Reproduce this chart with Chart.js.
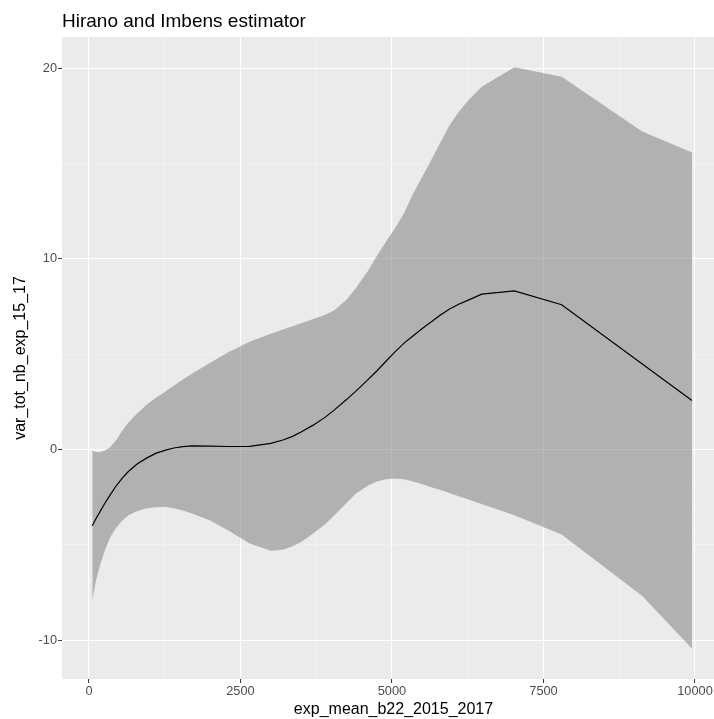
<!DOCTYPE html>
<html>
<head>
<meta charset="utf-8">
<script src="https://cdn.jsdelivr.net/npm/chart.js@4.4.1/dist/chart.umd.min.js"></script>
<style>
  html, body { margin: 0; padding: 0; background: #ffffff; overflow: hidden; }
  #wrap { width: 725px; height: 719px; }
</style>
</head>
<body>
<div id="wrap"><canvas id="chart" width="725" height="719"></canvas></div>
<script>
// data
const xs = [55, 110, 180, 260, 350, 450, 550, 650, 800, 950, 1100, 1250, 1400, 1550, 1700, 2000, 2300, 2650, 3000, 3200, 3350, 3500, 3700, 3900, 4050, 4250, 4400, 4600, 4750, 4900, 5050, 5200, 5350, 5500, 5650, 5800, 5950, 6100, 6250, 6480, 7020, 7800, 9130, 9950];
const estimate = [-4.0, -3.65, -3.27, -2.83, -2.38, -1.9, -1.5, -1.15, -0.75, -0.45, -0.2, -0.04, 0.08, 0.15, 0.19, 0.18, 0.16, 0.17, 0.32, 0.5, 0.68, 0.92, 1.28, 1.7, 2.08, 2.62, 3.05, 3.65, 4.12, 4.63, 5.12, 5.58, 5.97, 6.35, 6.7, 7.05, 7.37, 7.62, 7.82, 8.15, 8.32, 7.59, 4.49, 2.57];
const upper = [-0.05, -0.13, -0.14, -0.05, 0.12, 0.5, 0.98, 1.42, 1.9, 2.35, 2.7, 3.02, 3.35, 3.67, 3.98, 4.55, 5.1, 5.65, 6.07, 6.3, 6.45, 6.62, 6.84, 7.07, 7.3, 7.85, 8.45, 9.35, 10.15, 10.9, 11.6, 12.4, 13.43, 14.3, 15.2, 16.1, 17.0, 17.7, 18.27, 19.02, 20.04, 19.55, 16.67, 15.57];
const lower = [-7.94, -6.95, -6.08, -5.3, -4.6, -4.1, -3.72, -3.45, -3.22, -3.08, -3.02, -3.0, -3.08, -3.2, -3.35, -3.72, -4.25, -4.92, -5.3, -5.25, -5.08, -4.85, -4.4, -3.9, -3.45, -2.8, -2.32, -1.9, -1.68, -1.56, -1.52, -1.56, -1.68, -1.82, -1.98, -2.12, -2.28, -2.45, -2.6, -2.85, -3.45, -4.45, -7.68, -10.43];

const xMajor = [0, 2500, 5000, 7500, 10000];
const xMinor = [1250, 3750, 6250, 8750];
const yMajor = [-10, 0, 10, 20];
const yMinor = [-5, 5, 15];

const FONT = "'Liberation Sans', Arial, Helvetica, sans-serif";

const toPoints = (vals) => vals.map((v, i) => ({ x: xs[i], y: v }));

const setTicks = (major, minor) => (axis) => {
    axis.ticks = major.concat(minor).sort((a, b) => a - b).map((v) => ({ value: v }));
};

const gridOpts = (major) => ({
    color: (ctx) => (ctx.tick && major.includes(ctx.tick.value) ? "#ffffff" : "#f5f5f5"),
    lineWidth: (ctx) => (ctx.tick && major.includes(ctx.tick.value) ? 1.1 : 0.6),
    tickColor: (ctx) => (ctx.tick && major.includes(ctx.tick.value) ? "#333333" : "rgba(0,0,0,0)"),
    tickLength: 4,
    tickWidth: 1,
    drawOnChartArea: true,
    drawTicks: true,
});

const panelBg = {
    id: "panelBg",
    beforeDraw(chart) {
        const { ctx, chartArea } = chart;
        ctx.save();
        ctx.fillStyle = "#ebebeb";
        ctx.fillRect(chartArea.left, chartArea.top, chartArea.right - chartArea.left, chartArea.bottom - chartArea.top);
        ctx.restore();
    },
    afterDraw(chart) {
        const { ctx, chartArea } = chart;
        ctx.save();
        ctx.fillStyle = "#000000";
        ctx.font = "19px " + FONT;
        ctx.textBaseline = "alphabetic";
        ctx.textAlign = "left";
        ctx.fillText("Hirano and Imbens estimator", chartArea.left, 27);
        ctx.restore();
    },
};

new Chart(document.getElementById("chart"), {
    type: "line",
    data: {
        datasets: [
            {
                label: "estimate",
                data: toPoints(estimate),
                borderColor: "#000000",
                borderWidth: 1.2,
                pointRadius: 0,
                tension: 0,
                fill: false,
            },
            {
                label: "upper",
                data: toPoints(upper),
                borderWidth: 0,
                borderColor: "rgba(0,0,0,0)",
                backgroundColor: "rgba(120,120,120,0.5)",
                pointRadius: 0,
                tension: 0,
                fill: "+1",
            },
            {
                label: "lower",
                data: toPoints(lower),
                borderWidth: 0,
                borderColor: "rgba(0,0,0,0)",
                pointRadius: 0,
                tension: 0,
                fill: false,
            },
        ],
    },
    options: {
        responsive: false,
        animation: false,
        events: [],
        layout: { padding: { top: 37, right: 0, left: 0, bottom: 0 } },
        plugins: {
            legend: { display: false },
            tooltip: { enabled: false },
            title: { display: false },
        },
        scales: {
            x: {
                type: "linear",
                min: -445,
                max: 10495,
                afterBuildTicks: setTicks(xMajor, xMinor),
                afterFit: (axis) => { axis.height = 40; },
                grid: gridOpts(xMajor),
                border: { display: false },
                ticks: {
                    autoSkip: false,
                    maxRotation: 0,
                    padding: 1,
                    color: "#4d4d4d",
                    font: { family: FONT, size: 12.8 },
                    callback: (v) => (xMajor.includes(v) ? String(v) : ""),
                },
                title: {
                    display: true,
                    text: "exp_mean_b22_2015_2017",
                    color: "#000000",
                    font: { family: FONT, size: 16 },
                    padding: { top: 0, bottom: 0 },
                },
            },
            y: {
                type: "linear",
                min: -12.03,
                max: 21.63,
                afterBuildTicks: setTicks(yMajor, yMinor),
                afterFit: (axis) => { axis.width = 62; },
                grid: gridOpts(yMajor),
                border: { display: false },
                ticks: {
                    autoSkip: false,
                    padding: 1,
                    color: "#4d4d4d",
                    font: { family: FONT, size: 12.8 },
                    callback: (v) => (yMajor.includes(v) ? String(v) : ""),
                },
                title: {
                    display: true,
                    text: "var_tot_nb_exp_15_17",
                    color: "#000000",
                    font: { family: FONT, size: 16 },
                    padding: { top: 11.4, bottom: 0 },
                },
            },
        },
    },
    plugins: [panelBg],
});
</script>
</body>
</html>
